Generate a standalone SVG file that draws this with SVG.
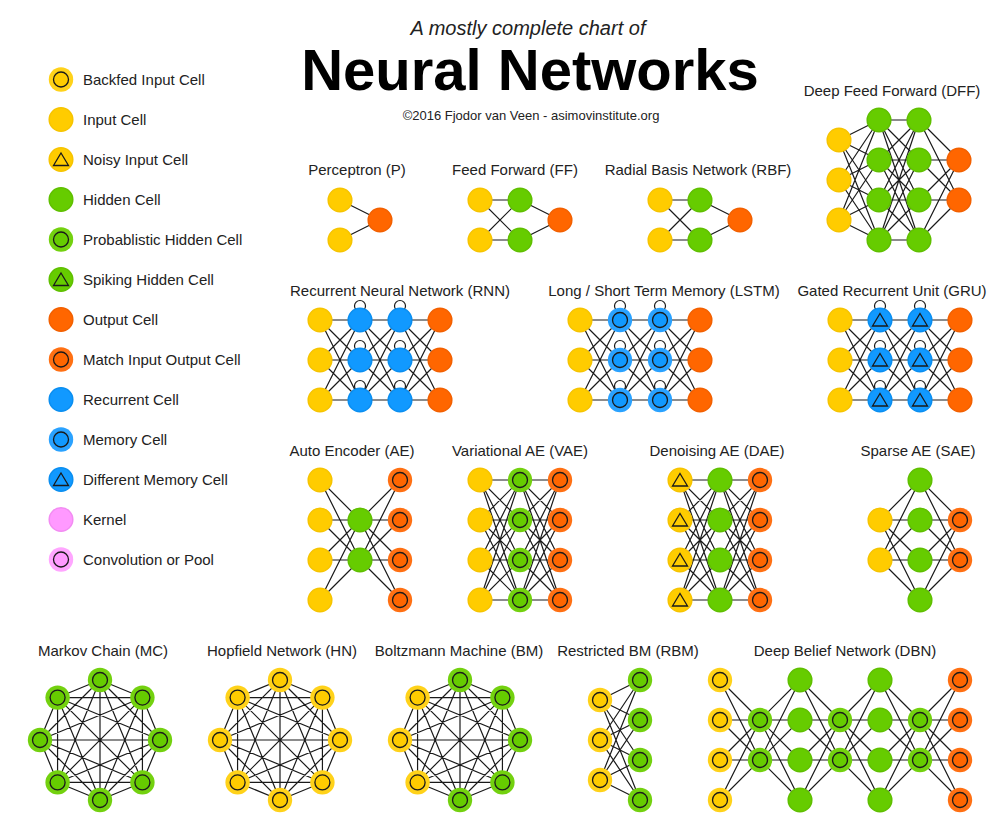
<svg xmlns="http://www.w3.org/2000/svg" xmlns:xlink="http://www.w3.org/1999/xlink" width="1000" height="835" viewBox="0 0 1000 835">
<style>
text{font-family:"Liberation Sans",Arial,sans-serif;fill:#222}
.lg{font-size:15px}
.lb{font-size:15px;text-anchor:middle}
.ed{fill:none;stroke:#1a1a1a;stroke-width:1.2;stroke-linejoin:round}
.in{fill:#ffcc00;stroke:#f6c400;stroke-width:1.5}
.hd{fill:#66cc00;stroke:#5fbf00;stroke-width:1.5}
.ou{fill:#ff6600;stroke:#f26000;stroke-width:1.5}
.rc{fill:#1199ff;stroke:#0a8ef0;stroke-width:1.5}
.kn{fill:#ff99ff;stroke:#f28cf2;stroke-width:1.5}
.ry{fill:#ffd21a}.rg{fill:#73d10f}.ro{fill:#ff7013}.rb{fill:#2aa2ff}.rk{fill:#ffa6ff}
.inner{stroke:#1a1a1a;stroke-width:1.3}
</style>
<defs>
<g id="in"><circle r="11.8" class="in"/></g>
<g id="bf"><circle r="12.2" class="ry"/><circle r="7.5" class="in inner"/></g>
<g id="noisy"><circle r="11.8" class="in"/><polygon points="0,-6.5 7.5,6 -7.5,6" fill="none" class="inner"/></g>
<g id="hid"><circle r="11.8" class="hd"/></g>
<g id="prob"><circle r="12.2" class="rg"/><circle r="7.5" class="hd inner"/></g>
<g id="spike"><circle r="11.8" class="hd"/><polygon points="0,-6.5 7.5,6 -7.5,6" fill="none" class="inner"/></g>
<g id="out"><circle r="11.8" class="ou"/></g>
<g id="match"><circle r="12.2" class="ro"/><circle r="7.5" class="ou inner"/></g>
<g id="rec"><circle r="11.8" class="rc"/></g>
<g id="mem"><circle r="12.2" class="rb"/><circle r="7.5" class="rc inner"/></g>
<g id="diff"><circle r="11.8" class="rc"/><polygon points="0,-6.5 7.5,6 -7.5,6" fill="none" class="inner"/></g>
<g id="kern"><circle r="11.8" class="kn"/></g>
<g id="conv"><circle r="12.2" class="rk"/><circle r="7.5" class="kn inner"/></g>
<circle id="loop" cx="0" cy="-14" r="5.5" class="ed"/>
<path id="k22" d="M0,0L40,0M0,0L40,40M0,40L40,0M0,40L40,40"/>
<path id="k33" d="M0,0L40,0M0,0L40,40M0,0L40,80M0,40L40,0M0,40L40,40M0,40L40,80M0,80L40,0M0,80L40,40M0,80L40,80"/>
<path id="k44" d="M0,0L40,0M0,0L40,40M0,0L40,80M0,0L40,120M0,40L40,0M0,40L40,40M0,40L40,80M0,40L40,120M0,80L40,0M0,80L40,40M0,80L40,80M0,80L40,120M0,120L40,0M0,120L40,40M0,120L40,80M0,120L40,120"/>
<path id="k42" d="M0,0L40,40M0,0L40,80M0,40L40,40M0,40L40,80M0,80L40,40M0,80L40,80M0,120L40,40M0,120L40,80"/>
<path id="k34" d="M0,20L40,0M0,20L40,40M0,20L40,80M0,20L40,120M0,60L40,0M0,60L40,40M0,60L40,80M0,60L40,120M0,100L40,0M0,100L40,40M0,100L40,80M0,100L40,120"/>
<path id="k8" d="M0,-60L42.43,-42.43L60,0L42.43,42.43L0,60L-42.43,42.43L-60,0L-42.43,-42.43ZM0,-60L60,0L0,60L-60,0ZM42.43,-42.43L42.43,42.43L-42.43,42.43L-42.43,-42.43ZM0,-60L42.43,42.43L-60,0L42.43,-42.43L0,60L-42.43,-42.43L60,0L-42.43,42.43ZM0,-60L0,60M42.43,-42.43L-42.43,42.43M60,0L-60,0M42.43,42.43L-42.43,-42.43"/>
</defs>
<rect width="1000" height="835" fill="#ffffff"/>

<g id="title">
<text x="528" y="35" font-size="20" font-style="italic" text-anchor="middle">A mostly complete chart of</text>
<text x="530" y="90" font-size="58" font-weight="bold" text-anchor="middle" style="fill:#000">Neural Networks</text>
<text x="531" y="120" font-size="13" text-anchor="middle">©2016 Fjodor van Veen - asimovinstitute.org</text>
</g>

<g id="legend">
<g id="lg-bf"><use href="#bf" x="61" y="79.5"/><text class="lg" x="83" y="85">Backfed Input Cell</text></g>
<g id="lg-in"><use href="#in" x="61" y="119.5"/><text class="lg" x="83" y="125">Input Cell</text></g>
<g id="lg-noisy"><use href="#noisy" x="61" y="159.5"/><text class="lg" x="83" y="165">Noisy Input Cell</text></g>
<g id="lg-hid"><use href="#hid" x="61" y="199.5"/><text class="lg" x="83" y="205">Hidden Cell</text></g>
<g id="lg-prob"><use href="#prob" x="61" y="239.5"/><text class="lg" x="83" y="245">Probablistic Hidden Cell</text></g>
<g id="lg-spike"><use href="#spike" x="61" y="279.5"/><text class="lg" x="83" y="285">Spiking Hidden Cell</text></g>
<g id="lg-out"><use href="#out" x="61" y="319.5"/><text class="lg" x="83" y="325">Output Cell</text></g>
<g id="lg-match"><use href="#match" x="61" y="359.5"/><text class="lg" x="83" y="365">Match Input Output Cell</text></g>
<g id="lg-rec"><use href="#rec" x="61" y="399.5"/><text class="lg" x="83" y="405">Recurrent Cell</text></g>
<g id="lg-mem"><use href="#mem" x="61" y="439.5"/><text class="lg" x="83" y="445">Memory Cell</text></g>
<g id="lg-diff"><use href="#diff" x="61" y="479.5"/><text class="lg" x="83" y="485">Different Memory Cell</text></g>
<g id="lg-kern"><use href="#kern" x="61" y="519.5"/><text class="lg" x="83" y="525">Kernel</text></g>
<g id="lg-conv"><use href="#conv" x="61" y="559.5"/><text class="lg" x="83" y="565">Convolution or Pool</text></g>
</g>

<g id="labels">
<text class="lb" x="357" y="175">Perceptron (P)</text>
<text class="lb" x="515" y="175">Feed Forward (FF)</text>
<text class="lb" x="698" y="175">Radial Basis Network (RBF)</text>
<text class="lb" x="892" y="96">Deep Feed Forward (DFF)</text>
<text class="lb" x="400" y="296">Recurrent Neural Network (RNN)</text>
<text class="lb" x="664" y="296">Long / Short Term Memory (LSTM)</text>
<text class="lb" x="892" y="296">Gated Recurrent Unit (GRU)</text>
<text class="lb" x="352" y="456">Auto Encoder (AE)</text>
<text class="lb" x="520" y="456">Variational AE (VAE)</text>
<text class="lb" x="717" y="456">Denoising AE (DAE)</text>
<text class="lb" x="918" y="456">Sparse AE (SAE)</text>
<text class="lb" x="103" y="656">Markov Chain (MC)</text>
<text class="lb" x="282" y="656">Hopfield Network (HN)</text>
<text class="lb" x="459" y="656">Boltzmann Machine (BM)</text>
<text class="lb" x="628" y="656">Restricted BM (RBM)</text>
<text class="lb" x="845" y="656">Deep Belief Network (DBN)</text>
</g>

<g id="connectors" class="ed">
<path d="M340,200L380,220M340,240L380,220"/>
<use href="#k22" x="480" y="200"/><path d="M520,200L560,220M520,240L560,220"/>
<use href="#k22" x="660" y="200"/><path d="M700,200L740,220M700,240L740,220"/>
<use href="#k34" x="839" y="120"/><use href="#k44" x="879" y="120"/><use href="#k42" x="919" y="120"/>
<use href="#k33" x="320" y="320"/><use href="#k33" x="360" y="320"/><use href="#k33" x="400" y="320"/>
<use href="#k33" x="580" y="320"/><use href="#k33" x="620" y="320"/><use href="#k33" x="660" y="320"/>
<use href="#k33" x="840" y="320"/><use href="#k33" x="880" y="320"/><use href="#k33" x="920" y="320"/>
<use href="#loop" x="360" y="320"/><use href="#loop" x="360" y="360"/><use href="#loop" x="360" y="400"/>
<use href="#loop" x="400" y="320"/><use href="#loop" x="400" y="360"/><use href="#loop" x="400" y="400"/>
<use href="#loop" x="620" y="320"/><use href="#loop" x="620" y="360"/><use href="#loop" x="620" y="400"/>
<use href="#loop" x="660" y="320"/><use href="#loop" x="660" y="360"/><use href="#loop" x="660" y="400"/>
<use href="#loop" x="880" y="320"/><use href="#loop" x="880" y="360"/><use href="#loop" x="880" y="400"/>
<use href="#loop" x="920" y="320"/><use href="#loop" x="920" y="360"/><use href="#loop" x="920" y="400"/>
<use href="#k42" x="320" y="480"/><use href="#k42" transform="translate(400,480) scale(-1,1)"/>
<use href="#k44" x="480" y="480"/><use href="#k44" x="520" y="480"/>
<use href="#k44" x="680" y="480"/><use href="#k44" x="720" y="480"/>
<use href="#k42" transform="translate(920,480) scale(-1,1)"/><use href="#k42" x="920" y="480"/>
<use href="#k8" x="100" y="740"/><use href="#k8" x="280" y="740"/><use href="#k8" x="460" y="740"/>
<use href="#k34" x="600" y="680"/>
<use href="#k42" x="720" y="680"/><use href="#k42" transform="translate(800,680) scale(-1,1)"/>
<use href="#k42" x="800" y="680"/><use href="#k42" transform="translate(880,680) scale(-1,1)"/>
<use href="#k42" x="880" y="680"/><use href="#k42" transform="translate(960,680) scale(-1,1)"/>
</g>

<g id="net-p">
<g id="p-i1"><use href="#in" x="340" y="200"/></g><g id="p-i2"><use href="#in" x="340" y="240"/></g>
<g id="p-o1"><use href="#out" x="380" y="220"/></g>
</g>
<g id="net-ff">
<g id="ff-i1"><use href="#in" x="480" y="200"/></g><g id="ff-i2"><use href="#in" x="480" y="240"/></g>
<g id="ff-h1"><use href="#hid" x="520" y="200"/></g><g id="ff-h2"><use href="#hid" x="520" y="240"/></g>
<g id="ff-o1"><use href="#out" x="560" y="220"/></g>
</g>
<g id="net-rbf">
<g id="rbf-i1"><use href="#in" x="660" y="200"/></g><g id="rbf-i2"><use href="#in" x="660" y="240"/></g>
<g id="rbf-h1"><use href="#hid" x="700" y="200"/></g><g id="rbf-h2"><use href="#hid" x="700" y="240"/></g>
<g id="rbf-o1"><use href="#out" x="740" y="220"/></g>
</g>
<g id="net-dff">
<g id="dff-i1"><use href="#in" x="839" y="140"/></g><g id="dff-i2"><use href="#in" x="839" y="180"/></g><g id="dff-i3"><use href="#in" x="839" y="220"/></g>
<g id="dff-a1"><use href="#hid" x="879" y="120"/></g><g id="dff-a2"><use href="#hid" x="879" y="160"/></g><g id="dff-a3"><use href="#hid" x="879" y="200"/></g><g id="dff-a4"><use href="#hid" x="879" y="240"/></g>
<g id="dff-b1"><use href="#hid" x="919" y="120"/></g><g id="dff-b2"><use href="#hid" x="919" y="160"/></g><g id="dff-b3"><use href="#hid" x="919" y="200"/></g><g id="dff-b4"><use href="#hid" x="919" y="240"/></g>
<g id="dff-o1"><use href="#out" x="959" y="160"/></g><g id="dff-o2"><use href="#out" x="959" y="200"/></g>
</g>
<g id="net-rnn">
<g id="rnn-i1"><use href="#in" x="320" y="320"/></g><g id="rnn-i2"><use href="#in" x="320" y="360"/></g><g id="rnn-i3"><use href="#in" x="320" y="400"/></g>
<g id="rnn-a1"><use href="#rec" x="360" y="320"/></g><g id="rnn-a2"><use href="#rec" x="360" y="360"/></g><g id="rnn-a3"><use href="#rec" x="360" y="400"/></g>
<g id="rnn-b1"><use href="#rec" x="400" y="320"/></g><g id="rnn-b2"><use href="#rec" x="400" y="360"/></g><g id="rnn-b3"><use href="#rec" x="400" y="400"/></g>
<g id="rnn-o1"><use href="#out" x="440" y="320"/></g><g id="rnn-o2"><use href="#out" x="440" y="360"/></g><g id="rnn-o3"><use href="#out" x="440" y="400"/></g>
</g>
<g id="net-lstm">
<g id="lstm-i1"><use href="#in" x="580" y="320"/></g><g id="lstm-i2"><use href="#in" x="580" y="360"/></g><g id="lstm-i3"><use href="#in" x="580" y="400"/></g>
<g id="lstm-a1"><use href="#mem" x="620" y="320"/></g><g id="lstm-a2"><use href="#mem" x="620" y="360"/></g><g id="lstm-a3"><use href="#mem" x="620" y="400"/></g>
<g id="lstm-b1"><use href="#mem" x="660" y="320"/></g><g id="lstm-b2"><use href="#mem" x="660" y="360"/></g><g id="lstm-b3"><use href="#mem" x="660" y="400"/></g>
<g id="lstm-o1"><use href="#out" x="700" y="320"/></g><g id="lstm-o2"><use href="#out" x="700" y="360"/></g><g id="lstm-o3"><use href="#out" x="700" y="400"/></g>
</g>
<g id="net-gru">
<g id="gru-i1"><use href="#in" x="840" y="320"/></g><g id="gru-i2"><use href="#in" x="840" y="360"/></g><g id="gru-i3"><use href="#in" x="840" y="400"/></g>
<g id="gru-a1"><use href="#diff" x="880" y="320"/></g><g id="gru-a2"><use href="#diff" x="880" y="360"/></g><g id="gru-a3"><use href="#diff" x="880" y="400"/></g>
<g id="gru-b1"><use href="#diff" x="920" y="320"/></g><g id="gru-b2"><use href="#diff" x="920" y="360"/></g><g id="gru-b3"><use href="#diff" x="920" y="400"/></g>
<g id="gru-o1"><use href="#out" x="960" y="320"/></g><g id="gru-o2"><use href="#out" x="960" y="360"/></g><g id="gru-o3"><use href="#out" x="960" y="400"/></g>
</g>
<g id="net-ae">
<g id="ae-i1"><use href="#in" x="320" y="480"/></g><g id="ae-i2"><use href="#in" x="320" y="520"/></g><g id="ae-i3"><use href="#in" x="320" y="560"/></g><g id="ae-i4"><use href="#in" x="320" y="600"/></g>
<g id="ae-h1"><use href="#hid" x="360" y="520"/></g><g id="ae-h2"><use href="#hid" x="360" y="560"/></g>
<g id="ae-o1"><use href="#match" x="400" y="480"/></g><g id="ae-o2"><use href="#match" x="400" y="520"/></g><g id="ae-o3"><use href="#match" x="400" y="560"/></g><g id="ae-o4"><use href="#match" x="400" y="600"/></g>
</g>
<g id="net-vae">
<g id="vae-i1"><use href="#in" x="480" y="480"/></g><g id="vae-i2"><use href="#in" x="480" y="520"/></g><g id="vae-i3"><use href="#in" x="480" y="560"/></g><g id="vae-i4"><use href="#in" x="480" y="600"/></g>
<g id="vae-h1"><use href="#prob" x="520" y="480"/></g><g id="vae-h2"><use href="#prob" x="520" y="520"/></g><g id="vae-h3"><use href="#prob" x="520" y="560"/></g><g id="vae-h4"><use href="#prob" x="520" y="600"/></g>
<g id="vae-o1"><use href="#match" x="560" y="480"/></g><g id="vae-o2"><use href="#match" x="560" y="520"/></g><g id="vae-o3"><use href="#match" x="560" y="560"/></g><g id="vae-o4"><use href="#match" x="560" y="600"/></g>
</g>
<g id="net-dae">
<g id="dae-i1"><use href="#noisy" x="680" y="480"/></g><g id="dae-i2"><use href="#noisy" x="680" y="520"/></g><g id="dae-i3"><use href="#noisy" x="680" y="560"/></g><g id="dae-i4"><use href="#noisy" x="680" y="600"/></g>
<g id="dae-h1"><use href="#hid" x="720" y="480"/></g><g id="dae-h2"><use href="#hid" x="720" y="520"/></g><g id="dae-h3"><use href="#hid" x="720" y="560"/></g><g id="dae-h4"><use href="#hid" x="720" y="600"/></g>
<g id="dae-o1"><use href="#match" x="760" y="480"/></g><g id="dae-o2"><use href="#match" x="760" y="520"/></g><g id="dae-o3"><use href="#match" x="760" y="560"/></g><g id="dae-o4"><use href="#match" x="760" y="600"/></g>
</g>
<g id="net-sae">
<g id="sae-i1"><use href="#in" x="880" y="520"/></g><g id="sae-i2"><use href="#in" x="880" y="560"/></g>
<g id="sae-h1"><use href="#hid" x="920" y="480"/></g><g id="sae-h2"><use href="#hid" x="920" y="520"/></g><g id="sae-h3"><use href="#hid" x="920" y="560"/></g><g id="sae-h4"><use href="#hid" x="920" y="600"/></g>
<g id="sae-o1"><use href="#match" x="960" y="520"/></g><g id="sae-o2"><use href="#match" x="960" y="560"/></g>
</g>
<g id="net-mc">
<g id="mc-1"><use href="#prob" x="100" y="680"/></g><g id="mc-2"><use href="#prob" x="142.4" y="697.6"/></g><g id="mc-3"><use href="#prob" x="160" y="740"/></g><g id="mc-4"><use href="#prob" x="142.4" y="782.4"/></g>
<g id="mc-5"><use href="#prob" x="100" y="800"/></g><g id="mc-6"><use href="#prob" x="57.6" y="782.4"/></g><g id="mc-7"><use href="#prob" x="40" y="740"/></g><g id="mc-8"><use href="#prob" x="57.6" y="697.6"/></g>
</g>
<g id="net-hn">
<g id="hn-1"><use href="#bf" x="280" y="680"/></g><g id="hn-2"><use href="#bf" x="322.4" y="697.6"/></g><g id="hn-3"><use href="#bf" x="340" y="740"/></g><g id="hn-4"><use href="#bf" x="322.4" y="782.4"/></g>
<g id="hn-5"><use href="#bf" x="280" y="800"/></g><g id="hn-6"><use href="#bf" x="237.6" y="782.4"/></g><g id="hn-7"><use href="#bf" x="220" y="740"/></g><g id="hn-8"><use href="#bf" x="237.6" y="697.6"/></g>
</g>
<g id="net-bm">
<g id="bm-1"><use href="#prob" x="460" y="680"/></g><g id="bm-2"><use href="#prob" x="502.4" y="697.6"/></g><g id="bm-3"><use href="#prob" x="520" y="740"/></g><g id="bm-4"><use href="#prob" x="502.4" y="782.4"/></g>
<g id="bm-5"><use href="#prob" x="460" y="800"/></g><g id="bm-6"><use href="#bf" x="417.6" y="782.4"/></g><g id="bm-7"><use href="#bf" x="400" y="740"/></g><g id="bm-8"><use href="#bf" x="417.6" y="697.6"/></g>
</g>
<g id="net-rbm">
<g id="rbm-i1"><use href="#bf" x="600" y="700"/></g><g id="rbm-i2"><use href="#bf" x="600" y="740"/></g><g id="rbm-i3"><use href="#bf" x="600" y="780"/></g>
<g id="rbm-h1"><use href="#prob" x="640" y="680"/></g><g id="rbm-h2"><use href="#prob" x="640" y="720"/></g><g id="rbm-h3"><use href="#prob" x="640" y="760"/></g><g id="rbm-h4"><use href="#prob" x="640" y="800"/></g>
</g>
<g id="net-dbn">
<g id="dbn-i1"><use href="#bf" x="720" y="680"/></g><g id="dbn-i2"><use href="#bf" x="720" y="720"/></g><g id="dbn-i3"><use href="#bf" x="720" y="760"/></g><g id="dbn-i4"><use href="#bf" x="720" y="800"/></g>
<g id="dbn-p1"><use href="#prob" x="760" y="720"/></g><g id="dbn-p2"><use href="#prob" x="760" y="760"/></g>
<g id="dbn-h1"><use href="#hid" x="800" y="680"/></g><g id="dbn-h2"><use href="#hid" x="800" y="720"/></g><g id="dbn-h3"><use href="#hid" x="800" y="760"/></g><g id="dbn-h4"><use href="#hid" x="800" y="800"/></g>
<g id="dbn-p3"><use href="#prob" x="840" y="720"/></g><g id="dbn-p4"><use href="#prob" x="840" y="760"/></g>
<g id="dbn-g1"><use href="#hid" x="880" y="680"/></g><g id="dbn-g2"><use href="#hid" x="880" y="720"/></g><g id="dbn-g3"><use href="#hid" x="880" y="760"/></g><g id="dbn-g4"><use href="#hid" x="880" y="800"/></g>
<g id="dbn-p5"><use href="#prob" x="920" y="720"/></g><g id="dbn-p6"><use href="#prob" x="920" y="760"/></g>
<g id="dbn-o1"><use href="#match" x="960" y="680"/></g><g id="dbn-o2"><use href="#match" x="960" y="720"/></g><g id="dbn-o3"><use href="#match" x="960" y="760"/></g><g id="dbn-o4"><use href="#match" x="960" y="800"/></g>
</g>
</svg>
